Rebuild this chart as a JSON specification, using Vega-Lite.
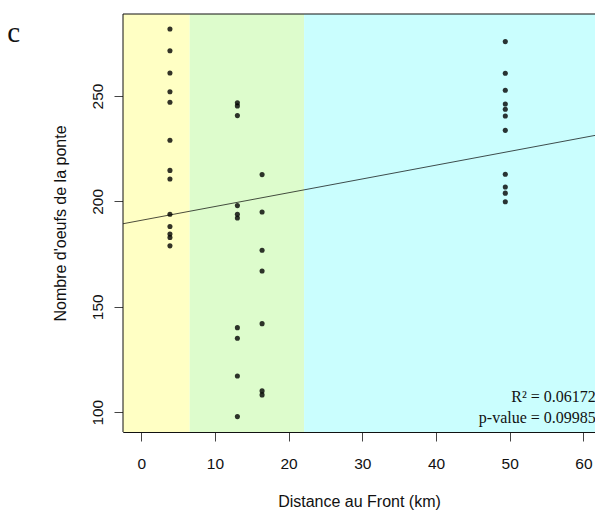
{
  "$schema": "https://vega.github.io/schema/vega-lite/v6.json",
  "autosize": {"type": "none"},
  "padding": {"left": 123, "top": 14, "right": 0, "bottom": 82},
  "width": 472,
  "height": 418,
  "background": "white",
  "config": {
    "view": {"stroke": null},
    "axis": {"labelFont": "Liberation Sans", "titleFont": "Liberation Sans", "labelColor": "#111", "titleColor": "#111", "titleFontWeight": "normal", "grid": false, "zindex": 1}
  },
  "title": {"text": "c", "anchor": "end", "frame": "group", "orient": "left", "angle": 0, "align": "left", "font": "Liberation Serif", "fontSize": 29, "fontWeight": "normal", "color": "#111", "baseline": "alphabetic", "offset": 32, "dy": 28},
  "datasets": {
    "zones": [
      {"start": -2.47, "end": 6.58, "zone": "a"},
      {"start": 6.58, "end": 22.1, "zone": "b"},
      {"start": 22.1, "end": 70, "zone": "c"}
    ],
    "ponte": [
      {"km": 3.9, "oeufs": 281.8}, {"km": 3.9, "oeufs": 271.5}, {"km": 3.9, "oeufs": 260.9}, {"km": 3.9, "oeufs": 252.0}, {"km": 3.9, "oeufs": 247.0}, {"km": 3.9, "oeufs": 229.0}, {"km": 3.9, "oeufs": 214.7}, {"km": 3.9, "oeufs": 210.6}, {"km": 3.9, "oeufs": 193.9}, {"km": 3.9, "oeufs": 188.1}, {"km": 3.9, "oeufs": 184.5}, {"km": 3.9, "oeufs": 182.9}, {"km": 3.9, "oeufs": 178.9},
      {"km": 13.05, "oeufs": 246.8}, {"km": 13.05, "oeufs": 245.3}, {"km": 13.05, "oeufs": 240.7}, {"km": 13.05, "oeufs": 198.0}, {"km": 13.05, "oeufs": 193.9}, {"km": 13.05, "oeufs": 192.1}, {"km": 13.05, "oeufs": 140.1}, {"km": 13.05, "oeufs": 135.1}, {"km": 13.05, "oeufs": 117.2}, {"km": 13.05, "oeufs": 97.9},
      {"km": 16.4, "oeufs": 212.7}, {"km": 16.4, "oeufs": 195.0}, {"km": 16.4, "oeufs": 176.8}, {"km": 16.4, "oeufs": 167.0}, {"km": 16.4, "oeufs": 142.0}, {"km": 16.4, "oeufs": 110.1}, {"km": 16.4, "oeufs": 108.2},
      {"km": 49.4, "oeufs": 275.8}, {"km": 49.4, "oeufs": 260.8}, {"km": 49.4, "oeufs": 252.7}, {"km": 49.4, "oeufs": 246.2}, {"km": 49.4, "oeufs": 243.7}, {"km": 49.4, "oeufs": 240.5}, {"km": 49.4, "oeufs": 233.7}, {"km": 49.4, "oeufs": 212.9}, {"km": 49.4, "oeufs": 206.8}, {"km": 49.4, "oeufs": 203.9}, {"km": 49.4, "oeufs": 199.8}
    ],
    "fit": [
      {"km": -2.47, "oeufs": 189.4},
      {"km": 61.57, "oeufs": 231.3}
    ],
    "stats": [
      {"km": 61.68, "oeufs": 104.7, "label": "R² = 0.06172"},
      {"km": 61.68, "oeufs": 95.0, "label": "p-value = 0.09985"}
    ]
  },
  "layer": [
    {
      "data": {"name": "zones"},
      "mark": {"type": "rect", "clip": true},
      "encoding": {
        "x": {"field": "start", "type": "quantitative", "scale": {"domain": [-2.47, 61.57], "nice": false, "zero": false},
              "axis": {"orient": "bottom", "title": "Distance au Front (km)", "values": [0, 10, 20, 30, 40, 50, 60], "tickSize": 9, "tickColor": "#444", "domainColor": "#111", "labelFontSize": 15.5, "labelPadding": 15, "titleFontSize": 16, "titlePadding": 22, "labelFlush": false}},
        "x2": {"field": "end"},
        "color": {"field": "zone", "type": "nominal", "scale": {"domain": ["a", "b", "c"], "range": ["#ffffc4", "#ddfccc", "#cafefe"]}, "legend": null}
      }
    },
    {
      "data": {"name": "fit"},
      "mark": {"type": "line", "color": "black", "opacity": 0.7, "strokeWidth": 1, "clip": true},
      "encoding": {
        "x": {"field": "km", "type": "quantitative", "scale": {"domain": [-2.47, 61.57], "nice": false, "zero": false}},
        "y": {"field": "oeufs", "type": "quantitative", "scale": {"domain": [90.6, 288.9], "nice": false, "zero": false},
              "axis": {"orient": "left", "title": "Nombre d'oeufs de la ponte", "values": [100, 150, 200, 250], "tickSize": 9, "tickColor": "#444", "domain": true, "domainColor": "#111", "labelFontSize": 15.5, "labelAngle": -90, "labelAlign": "center", "labelBaseline": "bottom", "labelPadding": 9, "titleFontSize": 16, "titlePadding": 22, "labelFlush": false}}
      }
    },
    {
      "data": {"name": "ponte"},
      "mark": {"type": "circle", "color": "black", "opacity": 0.8, "size": 26},
      "encoding": {
        "x": {"field": "km", "type": "quantitative", "scale": {"domain": [-2.47, 61.57], "nice": false, "zero": false}},
        "y": {"field": "oeufs", "type": "quantitative", "scale": {"domain": [90.6, 288.9], "nice": false, "zero": false}}
      }
    },
    {
      "data": {"name": "stats"},
      "mark": {"type": "text", "align": "right", "baseline": "alphabetic", "font": "Liberation Serif", "fontSize": 16, "color": "#111", "clip": false},
      "encoding": {
        "x": {"field": "km", "type": "quantitative", "scale": {"domain": [-2.47, 61.57], "nice": false, "zero": false}},
        "y": {"field": "oeufs", "type": "quantitative", "scale": {"domain": [90.6, 288.9], "nice": false, "zero": false}},
        "text": {"field": "label"}
      }
    },
    {
      "data": {"values": [{}]},
      "mark": {"type": "rule", "color": "#111", "strokeWidth": 1},
      "encoding": {
        "y": {"datum": 288.9, "type": "quantitative", "scale": {"domain": [90.6, 288.9], "nice": false, "zero": false}}
      }
    },
    {
      "data": {"values": [{}]},
      "mark": {"type": "rule", "color": "#111", "strokeWidth": 1},
      "encoding": {
        "x": {"datum": -2.47, "type": "quantitative", "scale": {"domain": [-2.47, 61.57], "nice": false, "zero": false}}
      }
    }
  ]
}
